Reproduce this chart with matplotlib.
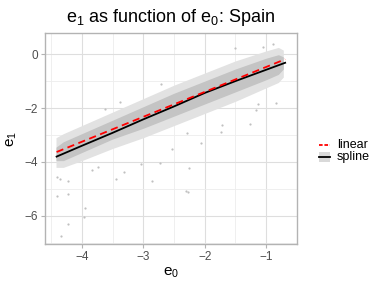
import numpy as np
import matplotlib
matplotlib.use("Agg")
import matplotlib.pyplot as plt
from matplotlib.lines import Line2D
from matplotlib.patches import Rectangle

plt.rcParams['font.family'] = ['Liberation Sans', 'DejaVu Sans']

# dense part of the cloud (upper / lower edge)
band_x = [-4.42, -4.3, -4.0, -3.5, -3.0, -2.5, -2.0, -1.5, -1.0, -0.8, -0.72]
core_hi = [-3.45, -3.25, -2.95, -2.45, -1.95, -1.45, -1.00, -0.55, -0.15, -0.02, -0.10]
core_lo = [-3.95, -3.95, -3.65, -3.15, -2.75, -2.30, -1.85, -1.40, -0.95, -0.75, -0.55]
outer_hi = [-3.10, -2.95, -2.65, -2.15, -1.65, -1.15, -0.70, -0.25, 0.12, 0.25, 0.15]
outer_lo = [-4.20, -4.20, -3.95, -3.50, -3.10, -2.65, -2.20, -1.75, -1.25, -1.05, -0.85]

# stray points outside the cloud
out_x = [-4.41, -4.36, -4.23, -4.41, -4.23, -3.95, -3.97, -4.23, -4.34,
         -3.32, -3.44, -3.03, -2.72, -2.85, -3.74, -3.84, -2.06, -2.53,
         -2.25, -2.31, -2.27, -1.27, -1.73, -1.71, -2.28, -1.17, -2.71,
         -3.38, -3.63, -1.51, -1.05, -0.88, -0.84, -1.14]
out_y = [-4.54, -4.63, -4.70, -5.26, -5.19, -5.69, -6.04, -6.30, -6.74,
         -4.37, -4.63, -4.07, -4.04, -4.69, -4.19, -4.30, -3.31, -3.52,
         -4.23, -5.07, -5.11, -2.59, -2.88, -2.63, -2.94, -2.07, -1.12,
         -1.77, -2.04, 0.21, 0.27, 0.37, -1.83, -1.86]

# fitted curves
lin_x = [-4.41, -0.69]
lin_y = [-3.63, -0.19]
spl_x = [-4.41, -4.0, -3.5, -3.0, -2.5, -2.0, -1.5, -1.0, -0.69]
spl_y = [-3.80, -3.40, -2.92, -2.42, -1.94, -1.44, -1.00, -0.58, -0.32]

xticks = [-4, -3, -2, -1]
yticks = [0, -2, -4, -6]

fig = plt.figure(figsize=(3.84, 2.88), dpi=100)
ax = fig.add_axes([0.117, 0.153, 0.656, 0.732])

ax.fill_between(band_x, outer_lo, outer_hi, color='#E2E2E2', lw=0, zorder=2)
ax.fill_between(band_x, core_lo, core_hi, color='#C4C4C4', lw=0, zorder=2)
ax.scatter(out_x, out_y, s=2.5, color='#C0C0C0', lw=0, zorder=2)
ax.plot(spl_x, spl_y, color='black', lw=1.3, zorder=3)
ax.plot(lin_x, lin_y, color='red', lw=1.3, ls=(0, (4, 2.5)), zorder=4)

ax.set_xlim(-4.6, -0.53)
ax.set_ylim(-7.04, 0.78)
ax.set_xticks(xticks)
ax.set_xticklabels(['\u2212%d' % -t for t in xticks])
ax.set_yticks(yticks)
ax.set_yticklabels(['0' if t == 0 else '\u2212%d' % -t for t in yticks])
ax.set_xticks([-4.5, -3.5, -2.5, -1.5, -0.5], minor=True)
ax.set_yticks([-1, -3, -5, -7], minor=True)
ax.grid(True, which='major', color='#DEDEDE', lw=0.8, zorder=0)
ax.grid(True, which='minor', color='#EDEDED', lw=0.6, zorder=0)
ax.set_axisbelow(True)
for s in ax.spines.values():
    s.set_color('#B3B3B3')
    s.set_linewidth(1.0)
ax.tick_params(which='major', length=3, color='#B3B3B3', labelsize=8.5,
               labelcolor='#4D4D4D', pad=2)
ax.tick_params(which='minor', length=0)

ax.set_xlabel(r'$\mathregular{e_0}$', fontsize=11, labelpad=2)
ax.set_ylabel(r'$\mathregular{e_1}$', fontsize=11, labelpad=4)
ax.set_title(r'$\mathregular{e_1}$ as function of $\mathregular{e_0}$: Spain',
             fontsize=13, pad=8)

# legend
fig.add_artist(Line2D([319 / 384, 330 / 384], [1 - 145 / 288] * 2,
                      color='red', lw=1.3, ls=(0, (2, 1))))
fig.add_artist(Rectangle((319 / 384, 1 - 162 / 288), 11 / 384, 10 / 288,
                         color='#D9D9D9', lw=0))
fig.add_artist(Line2D([319 / 384, 330 / 384], [1 - 157 / 288] * 2,
                      color='black', lw=1.3))
fig.text(337 / 384, 1 - 145 / 288, 'linear', fontsize=9, va='center')
fig.text(337 / 384, 1 - 157 / 288, 'spline', fontsize=9, va='center')

fig.savefig('out.png', dpi=100)
